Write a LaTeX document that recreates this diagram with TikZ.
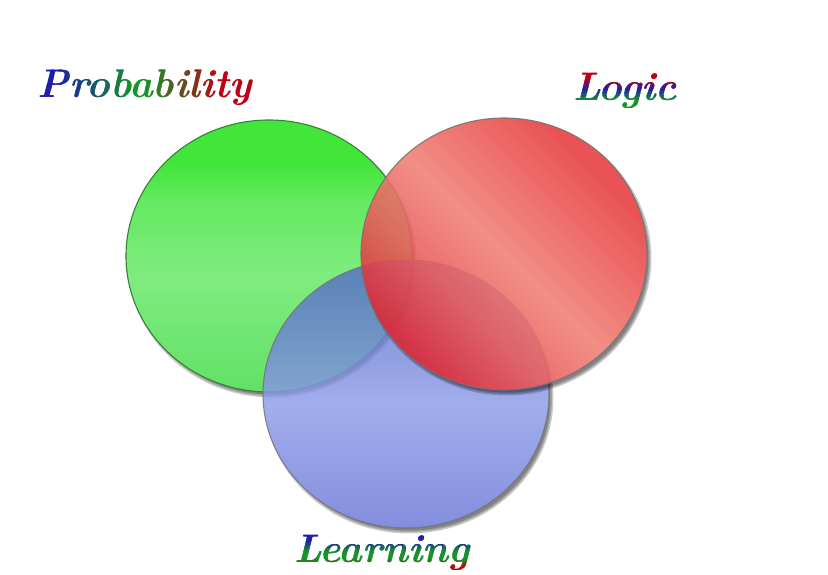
\documentclass[tikz,border=0pt]{standalone}
\usepackage{tikz}
\usetikzlibrary{calc}

\definecolor{greentop}{RGB}{66,230,58}
\definecolor{greenmid}{RGB}{128,236,128}
\definecolor{greenbot}{RGB}{66,212,74}
\definecolor{bluetop}{RGB}{48,78,176}
\definecolor{bluemid}{RGB}{142,156,232}
\definecolor{bluebot}{RGB}{62,72,196}
\definecolor{redtop}{RGB}{232,60,62}
\definecolor{redlight}{RGB}{240,128,118}
\definecolor{reddeep}{RGB}{222,34,48}
\definecolor{inkblue}{RGB}{30,30,170}
\definecolor{inkgreen}{RGB}{20,150,40}
\definecolor{inkred}{RGB}{190,0,20}

\pgfdeclareverticalshading{greenglass}{100bp}{color(0bp)=(greenbot); color(22bp)=(greenbot!55!greenmid); color(46bp)=(greenmid); color(60bp)=(greentop!45!greenmid); color(67bp)=(greentop); color(100bp)=(greentop)}
\pgfdeclareverticalshading{blueglass}{100bp}{color(0bp)=(bluebot); color(28bp)=(bluebot!40!bluemid); color(48bp)=(bluemid); color(70bp)=(bluemid!45!bluetop); color(100bp)=(bluetop)}
\pgfdeclarehorizontalshading{redglass}{100bp}{color(0bp)=(reddeep); color(25bp)=(reddeep); color(38bp)=(reddeep!40!redlight); color(50bp)=(redlight); color(60bp)=(redlight!55!redtop); color(72bp)=(redtop); color(100bp)=(redtop)}

\def\labelfont{\fontsize{40}{48}\selectfont\bfseries\itshape}

\tikzset{
  labeltext/.style={font=\labelfont, inner sep=0pt},
  disc/.style={draw=black!55, line width=1.1pt},
}

\def\discshadow(#1)(#2:#3){%
  \begin{scope}[even odd rule]
    \clip (-10,-10) rectangle (840,590) (#1) ellipse ({#2} and {#3});
    \foreach \g in {0,1.5,3}
      \fill[black, opacity=0.2] ($(#1)+(3,4)$) ellipse ({#2+\g-1.5} and {#3+\g-1.5});
  \end{scope}}

\begin{document}
\begin{tikzpicture}[x=1pt, y=-1pt]
  %%%%% START %%%%%

  \fill[white] (0,0) rectangle (828,575);
  \useasboundingbox (0,0) rectangle (828,575);

  % green disc (bottom layer)
  \discshadow(269,256)(143:136)
  \shade[disc, draw=black!50!green!55!gray, shading=greenglass] (269,256) ellipse (143 and 136);

  % blue disc
  \discshadow(406,394)(143:134)
  \shade[disc, shading=blueglass, opacity=0.82] (406,394) ellipse (143 and 134);

  % red disc (top layer)
  \discshadow(504,254)(143:136)
  \shade[disc, shading=redglass, shading angle=45, opacity=0.88] (504,254) ellipse (143 and 136);

  % labels
  \node[labeltext, text opacity=0] (prob) at (145,88) {Probability};
  \node[labeltext, text opacity=0] (logic) at (625,91) {Logic};
  \node[labeltext, text opacity=0] (learn) at (382,553) {Learning};

  % ink bands: blue -> green -> red, left to right
  \foreach \k in {0,...,29}{
    \pgfmathsetmacro\t{(\k+0.5)/30}
    \pgfmathtruncatemacro\pa{max(0,min(100,(\t-0.10)/0.35*100))}
    \pgfmathtruncatemacro\pb{max(0,min(100,(\t-0.50)/0.35*100))}
    \colorlet{bandink}{inkgreen!\pa!inkblue}
    \colorlet{bandink}{inkred!\pb!bandink}
    \begin{scope}
      \clip ($(prob.south west)!{\k/30}!(prob.south east)$) rectangle ($(prob.north west)!{(\k+1.3)/30}!(prob.north east)$);
      \node[labeltext, text=bandink] (prob-\k) at (prob.center) {Probability};
    \end{scope}
  }

  % ink bands: green -> blue -> red, bottom to top
  \foreach \k in {0,...,23}{
    \pgfmathsetmacro\t{(\k+0.5)/24}
    \pgfmathtruncatemacro\pa{max(0,min(100,(\t-0.25)/0.30*100))}
    \pgfmathtruncatemacro\pb{max(0,min(100,(\t-0.55)/0.30*100))}
    \colorlet{bandink}{inkblue!\pa!inkgreen}
    \colorlet{bandink}{inkred!\pb!bandink}
    \begin{scope}
      \clip ($(logic.south west)!{\k/24}!(logic.north west)$) rectangle ($(logic.south east)!{(\k+1.3)/24}!(logic.north east)$);
      \node[labeltext, text=bandink] (logic-\k) at (logic.center) {Logic};
    \end{scope}
  }

  % ink bands: red -> green -> blue, bottom to top
  \foreach \k in {0,...,23}{
    \pgfmathsetmacro\t{(\k+0.5)/24}
    \pgfmathtruncatemacro\pa{max(0,min(100,(\t-0.10)/0.25*100))}
    \pgfmathtruncatemacro\pb{max(0,min(100,(\t-0.55)/0.30*100))}
    \colorlet{bandink}{inkgreen!\pa!inkred}
    \colorlet{bandink}{inkblue!\pb!bandink}
    \begin{scope}
      \clip ($(learn.south west)!{\k/24}!(learn.north west)$) rectangle ($(learn.south east)!{(\k+1.3)/24}!(learn.north east)$);
      \node[labeltext, text=bandink] (learn-\k) at (learn.center) {Learning};
    \end{scope}
  }

  %%%%% END %%%%%
\end{tikzpicture}
\end{document}
